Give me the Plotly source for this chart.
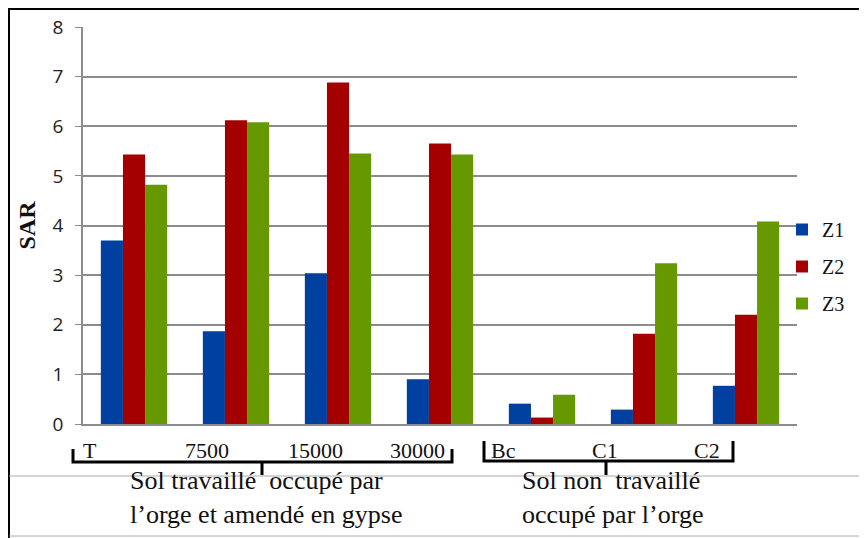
import plotly.graph_objects as go

categories = ["T", "7500", "15000", "30000", "Bc", "C1", "C2"]
z1 = [3.70, 1.87, 3.04, 0.90, 0.41, 0.29, 0.77]
z2 = [5.43, 6.12, 6.88, 5.65, 0.13, 1.82, 2.20]
z3 = [4.82, 6.08, 5.45, 5.43, 0.59, 3.24, 4.08]
series_names = ["Z1", "Z2", "Z3"]
colors = ["#0040a0", "#a50000", "#669900"]

# page has an 8px body margin; work in window pixel coordinates
OFF = 8
W, H = 867 - OFF, 538 - OFF
L, R, T, B = 83, 797, 27, 424  # plot area in window pixels


def px(xp):
    return (xp - L) / (R - L)


def py(yp):
    return (B - yp) / (B - T)


fig = go.Figure()
for name, vals, c in zip(series_names, [z1, z2, z3], colors):
    fig.add_trace(go.Bar(x=categories, y=vals, name=name, marker_color=c,
                         marker_line_width=0, legendgroup=name))

serif = "Liberation Serif, Times New Roman, serif"

annotations = []
tick_pos = [90, 207, 315, 417, 503, 605, 707]
for lab, xp in zip(categories, tick_pos):
    annotations.append(dict(x=px(xp), y=py(450), xref="paper", yref="paper",
                            xanchor="center", yanchor="middle",
                            text=lab, showarrow=False,
                            font=dict(family=serif, size=22, color="#111")))
annotations.append(dict(x=px(128), y=py(497), xref="paper", yref="paper",
                        xanchor="left", yanchor="middle", align="left",
                        text="Sol travaillé  occupé par<br>l’orge et amendé en gypse",
                        showarrow=False, font=dict(family=serif, size=26, color="#111")))
annotations.append(dict(x=px(520), y=py(497), xref="paper", yref="paper",
                        xanchor="left", yanchor="middle", align="left",
                        text="Sol non  travaillé<br>occupé par l’orge",
                        showarrow=False, font=dict(family=serif, size=26, color="#111")))

shapes = []
shapes.append(dict(type="line", xref="paper", yref="paper", x0=px(9), x1=px(9), y0=py(8), y1=py(538),
                   line=dict(color="#000", width=2)))
shapes.append(dict(type="line", xref="paper", yref="paper", x0=px(9), x1=px(870), y0=py(9), y1=py(9),
                   line=dict(color="#000", width=2)))
shapes.append(dict(type="line", xref="paper", yref="paper", x0=px(9), x1=px(870), y0=py(476), y1=py(476),
                   line=dict(color="#aaa", width=1)))
shapes.append(dict(type="line", xref="paper", yref="paper", x0=px(9), x1=px(870), y0=py(536), y1=py(536),
                   line=dict(color="#aaa", width=1)))


def bracket(x0, x1, ytop, ybot, xm, ymid):
    path = f"M {px(x0)},{py(ytop)} L {px(x0)},{py(ybot)} L {px(x1)},{py(ybot)} L {px(x1)},{py(ytop)}"
    shapes.append(dict(type="path", xref="paper", yref="paper", path=path,
                       line=dict(color="#000", width=3)))
    shapes.append(dict(type="line", xref="paper", yref="paper", x0=px(xm), x1=px(xm),
                       y0=py(ybot), y1=py(ymid), line=dict(color="#000", width=3)))


bracket(73, 452, 449, 462, 262, 475)
bracket(484, 733, 441, 461, 606, 475)

fig.update_layout(
    width=W, height=H,
    margin=dict(l=L - OFF, r=W - (R - OFF), t=T - OFF, b=H - (B - OFF), autoexpand=False),
    paper_bgcolor="white", plot_bgcolor="white",
    barmode="group", bargap=0.35, bargroupgap=0,
    showlegend=True,
    legend=dict(x=px(782), y=py(210), xanchor="left", yanchor="top",
                font=dict(family=serif, size=20, color="#111"),
                tracegroupgap=8, itemwidth=30, bgcolor="rgba(0,0,0,0)"),
    xaxis=dict(showticklabels=False, ticks="", showgrid=False, showline=True,
               linecolor="#8c8c8c", linewidth=1.5, zeroline=False),
    yaxis=dict(range=[0, 8], dtick=1, showgrid=True, gridcolor="#8c8c8c", gridwidth=1.5,
               showline=True, linecolor="#8c8c8c", linewidth=1.5, ticks="outside",
               ticklen=6, tickcolor="#8c8c8c", zeroline=False, ticklabelstandoff=8,
               tickfont=dict(family="Open Sans, Liberation Sans, sans-serif", size=19, color="#222"),
               title=dict(text="<b>SAR</b>", font=dict(family=serif, size=24, color="#111"),
                          standoff=10)),
    annotations=annotations, shapes=shapes,
)

fig.write_html("out.html")
